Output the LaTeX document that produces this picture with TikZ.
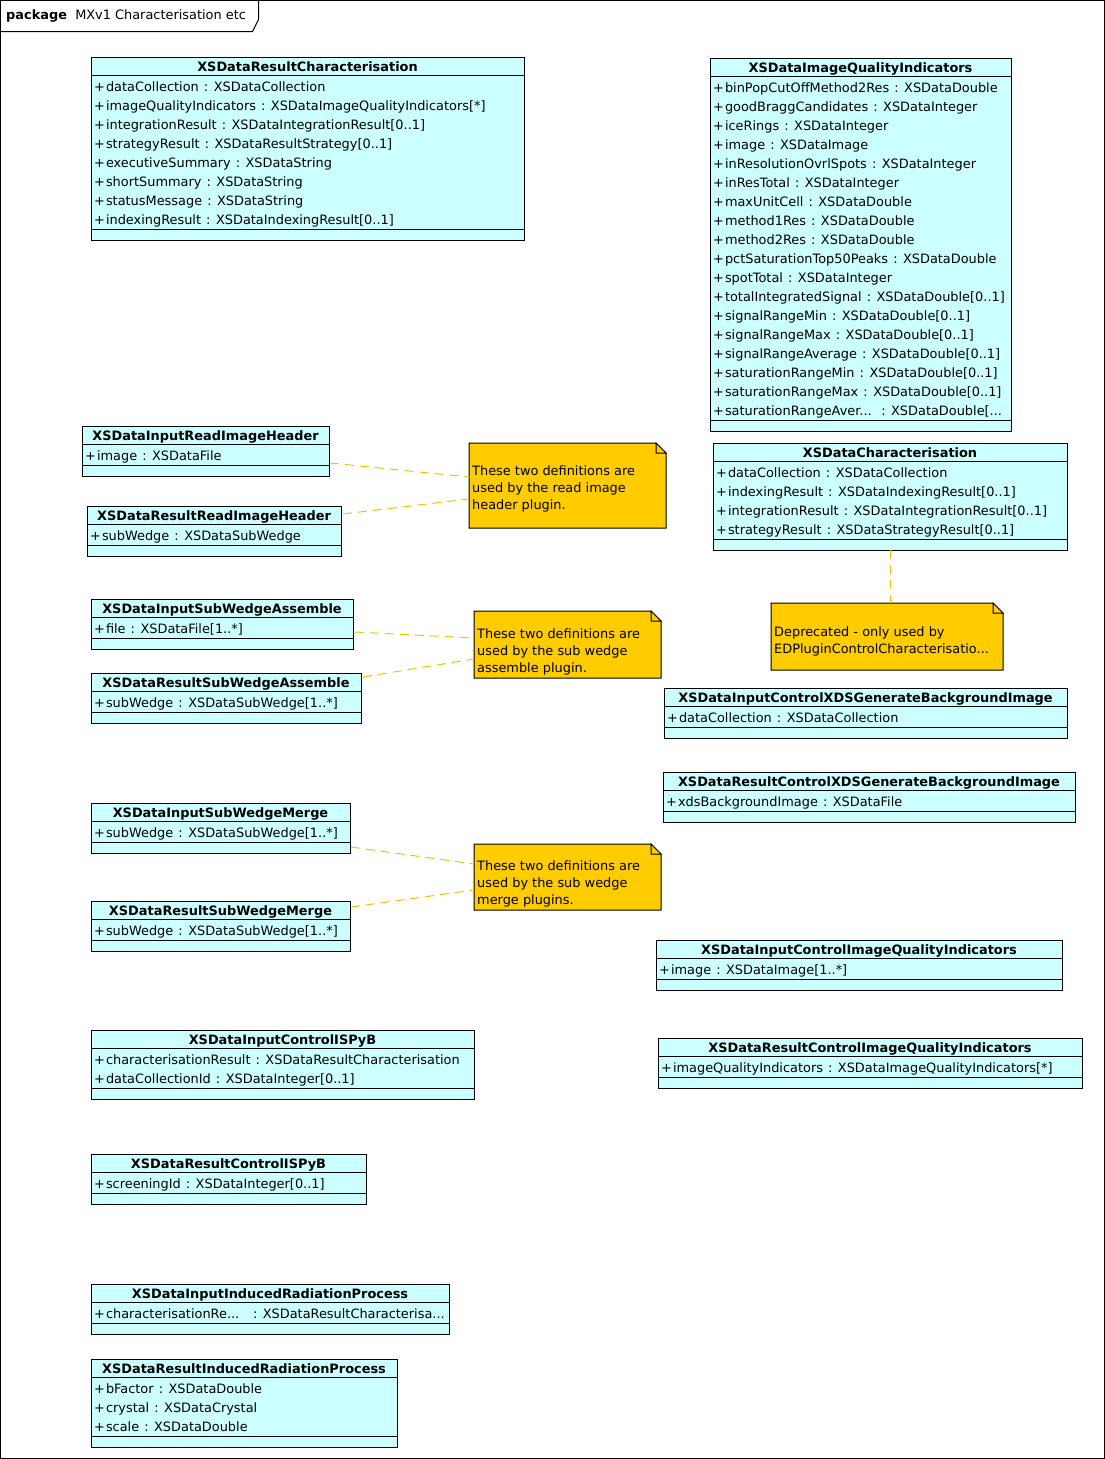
\documentclass[tikz,border=0pt]{standalone}
\usepackage{fontspec}
\setmainfont{DejaVu Sans}
\usetikzlibrary{calc}
\definecolor{clsfill}{HTML}{CCFFFF}
\definecolor{notefill}{HTML}{FFCC00}
\definecolor{notelink}{HTML}{F2C200}
\newcommand\dfont{\fontsize{12.9}{15}\selectfont}
\tikzset{
  clsbox/.style={draw=black, fill=clsfill, line width=1pt, inner sep=0pt, outer sep=0pt},
  sepline/.style={draw=black, line width=1pt},
  clstitle/.style={font=\dfont\bfseries, inner sep=0pt, text height=9.4pt, text depth=0pt},
  clsattr/.style={font=\dfont, inner sep=0pt, anchor=west, text height=9.4pt, text depth=0pt},
  notearea/.style={inner sep=0pt, outer sep=0pt},
  noteshape/.style={draw=black, fill=notefill, line width=1pt, line join=miter},
  notetext/.style={font=\dfont, inner sep=0pt, anchor=west, text height=9.4pt, text depth=0pt},
  notelinkline/.style={draw=notelink, line width=1pt, dash pattern=on 9pt off 6pt},
  framebox/.style={draw=black, line width=1pt, inner sep=0pt, outer sep=0pt},
}
% #1 name, #2 left, #3 top, #4 right, #5 number of rows, #6 title
\newcommand\cls[6]{%
  \node[clsbox, anchor=north west, minimum width={(#4-#2)*1pt}, minimum height={(31+19*#5)*1pt}] (#1) at (#2,#3) {};
  \node[clstitle] (#1-t) at ($(#1.north)+(0,9.8)$) {#6};
  \draw[sepline] ($(#1.north west)+(0,18)$) -- ($(#1.north east)+(0,18)$);
  \draw[sepline] ($(#1.north west)+(0,{20+19*#5})$) -- ($(#1.north east)+(0,{20+19*#5})$);
}
% #1 class name, #2 row index, #3 text
\newcommand\attr[3]{%
  \node[clsattr] (#1-#2) at ($(#1.north west)+(3,{29.8+19*#2})$) {+\kern1pt #3};
}
% #1 name, #2 left, #3 top, #4 right, #5 bottom
\newcommand\notebox[5]{%
  \node[notearea, anchor=north west, minimum width={(#4-#2)*1pt}, minimum height={(#5-#3)*1pt}] (#1) at (#2,#3) {};
  \draw[noteshape] (#1.north west) -- ($(#1.north east)+(-10,0)$) -- ($(#1.north east)+(0,10)$) -- (#1.south east) -- (#1.south west) -- cycle;
  \draw[noteshape] ($(#1.north east)+(-10,0)$) -- ($(#1.north east)+(-10,10)$) -- ($(#1.north east)+(0,10)$) -- cycle;
}
% #1 note name, #2 line index, #3 offset of first line, #4 text
\newcommand\noteline[4]{%
  \node[notetext] (#1-l#2) at ($(#1.north west)+(3,{#3+0.8+17*#2})$) {#4};
}
\begin{document}
\begin{tikzpicture}[x=1pt, y=-1pt]
\useasboundingbox (0,0) rectangle (1105,1459);
\fill[white] (0,0) rectangle (1105,1459);

% package frame
\node[framebox, anchor=north west, minimum width=1104pt, minimum height=1458pt] (frame) at (0.5,0.5) {};
\draw[line width=1pt] (frame.north west) ++(0,31) -- ++(252,0) -- ++(6,-12) -- ++(0,-19);
\node[font=\dfont, inner sep=0pt, anchor=west, text height=9.4pt, text depth=0pt] (pkg) at (6,14.8) {\textbf{package}\ \ MXv1 Characterisation etc};

% XSDataResultCharacterisation
\cls{rc}{91}{57}{524}{8}{XSDataResultCharacterisation}
\attr{rc}{0}{dataCollection\kern1pt\ : XSDataCollection}
\attr{rc}{1}{imageQualityIndicators\kern1pt\ : XSDataImageQualityIndicators[*]}
\attr{rc}{2}{integrationResult\kern1pt\ : XSDataIntegrationResult[0..1]}
\attr{rc}{3}{strategyResult\kern1pt\ : XSDataResultStrategy[0..1]}
\attr{rc}{4}{executiveSummary\kern1pt\ : XSDataString}
\attr{rc}{5}{shortSummary\kern1pt\ : XSDataString}
\attr{rc}{6}{statusMessage\kern1pt\ : XSDataString}
\attr{rc}{7}{indexingResult\kern1pt\ : XSDataIndexingResult[0..1]}

% XSDataImageQualityIndicators
\cls{iqi}{710}{58}{1011}{18}{XSDataImageQualityIndicators}
\attr{iqi}{0}{binPopCutOffMethod2Res\kern1pt\ : XSDataDouble}
\attr{iqi}{1}{goodBraggCandidates\kern1pt\ : XSDataInteger}
\attr{iqi}{2}{iceRings\kern1pt\ : XSDataInteger}
\attr{iqi}{3}{image\kern1pt\ : XSDataImage}
\attr{iqi}{4}{inResolutionOvrlSpots\kern1pt\ : XSDataInteger}
\attr{iqi}{5}{inResTotal\kern1pt\ : XSDataInteger}
\attr{iqi}{6}{maxUnitCell\kern1pt\ : XSDataDouble}
\attr{iqi}{7}{method1Res\kern1pt\ : XSDataDouble}
\attr{iqi}{8}{method2Res\kern1pt\ : XSDataDouble}
\attr{iqi}{9}{pctSaturationTop50Peaks\kern1pt\ : XSDataDouble}
\attr{iqi}{10}{spotTotal\kern1pt\ : XSDataInteger}
\attr{iqi}{11}{totalIntegratedSignal\kern1pt\ : XSDataDouble[0..1]}
\attr{iqi}{12}{signalRangeMin\kern1pt\ : XSDataDouble[0..1]}
\attr{iqi}{13}{signalRangeMax\kern1pt\ : XSDataDouble[0..1]}
\attr{iqi}{14}{signalRangeAverage\kern1pt\ : XSDataDouble[0..1]}
\attr{iqi}{15}{saturationRangeMin\kern1pt\ : XSDataDouble[0..1]}
\attr{iqi}{16}{saturationRangeMax\kern1pt\ : XSDataDouble[0..1]}
\attr{iqi}{17}{saturationRangeAver...~ : XSDataDouble[...}

% read image header
\cls{irh}{82}{426}{329}{1}{XSDataInputReadImageHeader}
\attr{irh}{0}{image\kern1pt\ : XSDataFile}
\cls{rrh}{87}{506}{341}{1}{XSDataResultReadImageHeader}
\attr{rrh}{0}{subWedge\kern1pt\ : XSDataSubWedge}

% XSDataCharacterisation
\cls{chr}{713}{443}{1067}{4}{XSDataCharacterisation}
\attr{chr}{0}{dataCollection\kern1pt\ : XSDataCollection}
\attr{chr}{1}{indexingResult\kern1pt\ : XSDataIndexingResult[0..1]}
\attr{chr}{2}{integrationResult\kern1pt\ : XSDataIntegrationResult[0..1]}
\attr{chr}{3}{strategyResult\kern1pt\ : XSDataStrategyResult[0..1]}

% sub wedge assemble
\cls{isa}{91}{599}{353}{1}{XSDataInputSubWedgeAssemble}
\attr{isa}{0}{file\kern1pt\ : XSDataFile[1..*]}
\cls{rsa}{91}{673}{361}{1}{XSDataResultSubWedgeAssemble}
\attr{rsa}{0}{subWedge\kern1pt\ : XSDataSubWedge[1..*]}

% XDS background image
\cls{ixds}{664}{688}{1067}{1}{XSDataInputControlXDSGenerateBackgroundImage}
\attr{ixds}{0}{dataCollection\kern1pt\ : XSDataCollection}
\cls{rxds}{663}{772}{1075}{1}{XSDataResultControlXDSGenerateBackgroundImage}
\attr{rxds}{0}{xdsBackgroundImage\kern1pt\ : XSDataFile}

% sub wedge merge
\cls{ism}{91}{803}{350}{1}{XSDataInputSubWedgeMerge}
\attr{ism}{0}{subWedge\kern1pt\ : XSDataSubWedge[1..*]}
\cls{rsm}{91}{901}{350}{1}{XSDataResultSubWedgeMerge}
\attr{rsm}{0}{subWedge\kern1pt\ : XSDataSubWedge[1..*]}

% image quality indicators control
\cls{iiqi}{656}{940}{1062}{1}{XSDataInputControlImageQualityIndicators}
\attr{iiqi}{0}{image\kern1pt\ : XSDataImage[1..*]}
\cls{riqi}{658}{1038}{1082}{1}{XSDataResultControlImageQualityIndicators}
\attr{riqi}{0}{imageQualityIndicators\kern1pt\ : XSDataImageQualityIndicators[*]}

% ISPyB
\cls{iisp}{91}{1030}{474}{2}{XSDataInputControlISPyB}
\attr{iisp}{0}{characterisationResult\kern1pt\ : XSDataResultCharacterisation}
\attr{iisp}{1}{dataCollectionId\kern1pt\ : XSDataInteger[0..1]}
\cls{risp}{91}{1154}{366}{1}{XSDataResultControlISPyB}
\attr{risp}{0}{screeningId\kern1pt\ : XSDataInteger[0..1]}

% induced radiation process
\cls{iirp}{91}{1284}{449}{1}{XSDataInputInducedRadiationProcess}
\attr{iirp}{0}{characterisationRe...~~ : XSDataResultCharacterisa...}
\cls{rirp}{91}{1359}{397}{3}{XSDataResultInducedRadiationProcess}
\attr{rirp}{0}{bFactor\kern1pt\ : XSDataDouble}
\attr{rirp}{1}{crystal\kern1pt\ : XSDataCrystal}
\attr{rirp}{2}{scale\kern1pt\ : XSDataDouble}

% notes
\notebox{n1}{469}{443}{666}{528}
\noteline{n1}{0}{27}{These two definitions are}
\noteline{n1}{1}{27}{used by the read image}
\noteline{n1}{2}{27}{header plugin.}

\notebox{n2}{771}{603}{1003}{670}
\noteline{n2}{0}{28}{Deprecated - only used by}
\noteline{n2}{1}{28}{EDPluginControlCharacterisatio...}

\notebox{n3}{474}{611}{661}{678}
\noteline{n3}{0}{22}{These two definitions are}
\noteline{n3}{1}{22}{used by the sub wedge}
\noteline{n3}{2}{22}{assemble plugin.}

\notebox{n4}{474}{844}{661}{910}
\noteline{n4}{0}{21}{These two definitions are}
\noteline{n4}{1}{21}{used by the sub wedge}
\noteline{n4}{2}{21}{merge plugins.}

% note links
\draw[notelinkline] ($(irh.north east)+(1,37)$) -- ($(n1.north west)+(0,34)$);
\draw[notelinkline] ($(rrh.north east)+(2,8)$) -- ($(n1.north west)+(0,56)$);
\draw[notelinkline] (chr.south) -- (chr.south |- n2.north);
\draw[notelinkline] ($(isa.north east)+(2,33)$) -- ($(n3.north west)+(0,27)$);
\draw[notelinkline] ($(rsa.north east)+(2,4)$) -- ($(n3.north west)+(0,48)$);
\draw[notelinkline] ($(ism.north east)+(1,44)$) -- ($(n4.north west)+(0,20)$);
\draw[notelinkline] ($(rsm.north east)+(1,6)$) -- ($(n4.north west)+(0,46)$);
\end{tikzpicture}
\end{document}
